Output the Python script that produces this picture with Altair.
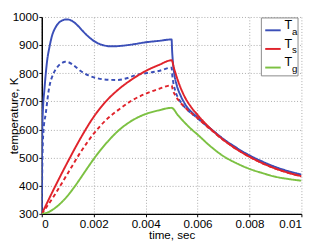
import altair as alt
import pandas as pd

# ---- data (time in ms, temperature in K) ----
ta_t = [0, 0.02, 0.05, 0.1, 0.15, 0.2, 0.3, 0.4, 0.5, 0.6, 0.7, 0.8, 0.9, 1.0, 1.1, 1.2, 1.4, 1.6, 1.8, 2.0,
        2.2, 2.4, 2.6, 2.8, 3.0, 3.3, 3.6, 4.0, 4.5, 5.0,
        5.02, 5.05, 5.1, 5.2, 5.35, 5.5, 6.0, 6.5, 7.0, 7.5, 8.0, 8.5, 9.0, 9.5, 10.0]
ta_v = [300, 600, 680, 740, 795, 840, 895, 935, 958, 973, 983, 988, 991, 991, 989, 984, 968, 948, 930, 915,
        905, 899, 896, 896, 897, 900, 904, 910, 915, 920,
        880, 840, 800, 757, 720, 693, 643, 603, 566, 535, 508, 486, 467, 452, 440]

ta2_t = [0, 0.03, 0.07, 0.15, 0.27, 0.46, 0.6, 0.77, 0.9, 1.0, 1.2, 1.5, 1.8, 2.1, 2.5, 2.9, 3.3, 3.6, 4.0, 4.5, 5.0,
         5.03, 5.07, 5.15, 5.3, 5.5, 6.0, 6.5, 7.0, 7.5, 8.0, 8.5, 9.0, 9.5, 10.0]
ta2_v = [300, 520, 600, 655, 741, 801, 822, 836, 841, 840, 830, 808, 792, 783, 777, 776, 783, 793, 800, 808, 820,
         790, 765, 735, 705, 680, 640, 602, 565, 533, 506, 483, 464, 449, 437]

ts_t = [0, 0.5, 1.0, 1.5, 2.0, 2.5, 3.0, 3.5, 4.0, 4.5, 5.0,
        5.1, 5.25, 5.5, 5.75, 6.0, 6.5, 7.0, 7.5, 8.0, 8.5, 9.0, 9.5, 10.0]
ts_v = [300, 395, 485, 570, 645, 703, 746, 780, 808, 829, 846,
        815, 772, 717, 680, 652, 603, 563, 530, 503, 480, 461, 446, 434]

ts2_t = [0, 0.5, 1.0, 1.5, 2.0, 2.5, 3.0, 3.5, 4.0, 4.5, 5.0,
         5.05, 5.15, 5.3, 5.5, 6.0, 6.5, 7.0, 7.5, 8.0, 8.5, 9.0, 9.5, 10.0]
ts2_v = [300, 368, 444, 520, 585, 636, 673, 705, 727, 744, 757,
         740, 720, 700, 680, 640, 600, 562, 530, 503, 480, 461, 446, 433]

tg_t = [0, 0.25, 0.5, 0.75, 1.0, 1.25, 1.5, 1.75, 2.0, 2.5, 3.0, 3.5, 4.0, 4.5, 5.0,
        5.25, 5.5, 5.75, 6.0, 6.5, 7.0, 7.5, 8.0, 8.5, 9.0, 9.5, 10.0]
tg_v = [300, 306, 320, 340, 365, 395, 428, 462, 495, 553, 600, 633, 655, 668, 677,
        650, 625, 602, 582, 540, 505, 480, 460, 445, 432, 424, 418]

series_names = ["Ta", "Ta2", "Ts", "Ts2", "Tg"]
series_data = [(ta_t, ta_v), (ta2_t, ta2_v), (ts_t, ts_v), (ts2_t, ts2_v), (tg_t, tg_v)]
series_style = ["solid", "dashed", "solid", "dashed", "solid"]
series_color = ["#3b4fb8", "#3b4fb8", "#e0232b", "#e0232b", "#7cc142"]
draw_order = [4, 3, 2, 1, 0]

x_ticks = [0, 0.002, 0.004, 0.006, 0.008, 0.01]
y_ticks = [300, 400, 500, 600, 700, 800, 900, 1000]

legend_main = ["T", "T", "T"]
legend_sub = ["a", "s", "g"]
legend_color = ["#3b4fb8", "#e0232b", "#7cc142"]

rows = []
for i, (name, (ts, vs)) in enumerate(zip(series_names, series_data)):
    for t, v in zip(ts, vs):
        rows.append({"series": name, "time": t / 1000.0, "temp": v,
                     "style": series_style[i], "order": draw_order[i]})
df = pd.DataFrame(rows)

FONT = "Liberation Sans"
W, H = 269, 204

lines = alt.Chart(df).mark_line(strokeWidth=2, interpolate="monotone", clip=True).encode(
    x=alt.X("time:Q", title="time, sec",
            scale=alt.Scale(domain=[0, 0.01], nice=False, zero=False),
            axis=alt.Axis(values=x_ticks, format=".3~f", titlePadding=1)),
    y=alt.Y("temp:Q", title="temperature, K",
            scale=alt.Scale(domain=[300, 1000], nice=False, zero=False),
            axis=alt.Axis(values=y_ticks, format="d", titleX=-25, titleY=H / 2,
                          titleBaseline="alphabetic", labelPadding=1)),
    color=alt.Color("series:N", scale=alt.Scale(domain=series_names, range=series_color), legend=None),
    strokeDash=alt.StrokeDash("style:N", scale=alt.Scale(domain=["solid", "dashed"], range=[[1, 0], [4, 3]]),
                              legend=None),
    order=alt.Order("order:Q"),
    detail="series:N",
)

one = pd.DataFrame({"k": [0]})
layers = [lines]
# legend box
layers.append(alt.Chart(one).mark_rect(fill="white", stroke="#888888", strokeWidth=1).encode(
    x=alt.value(227.5), x2=alt.value(265.5), y=alt.value(1), y2=alt.value(61)))
for i in range(3):
    yl = 13.8 + 19.3 * i
    layers.append(alt.Chart(one).mark_rule(strokeWidth=2, color=legend_color[i]).encode(
        x=alt.value(231.5), x2=alt.value(247.5), y=alt.value(yl)))
    layers.append(alt.Chart(one).mark_text(text=legend_main[i], font=FONT, fontSize=13, align="left",
                                           baseline="alphabetic", color="black").encode(
        x=alt.value(251.5), y=alt.value(yl - 1.2)))
    layers.append(alt.Chart(one).mark_text(text=legend_sub[i], font=FONT, fontSize=10, align="left",
                                           baseline="alphabetic", color="black").encode(
        x=alt.value(259.3), y=alt.value(yl + 4.4)))

chart = alt.layer(*layers).properties(
    width=W, height=H,
    autosize=alt.AutoSizeParams(type="none"),
    padding={"left": 35, "top": 5, "right": 12, "bottom": 30},
).configure_view(strokeWidth=0).configure_axis(
    labelFont=FONT, titleFont=FONT, labelFontSize=12, titleFontSize=12,
    labelColor="black", titleColor="black", titleFontWeight="normal",
    domainColor="black", domainWidth=1.5, tickColor="black", tickSize=3, labelPadding=2,
    gridColor="#a8a8a8", gridDash=[1, 2], gridWidth=1, gridOpacity=1,
)

chart.save("out.html", embed_options={"renderer": "svg", "actions": False})
